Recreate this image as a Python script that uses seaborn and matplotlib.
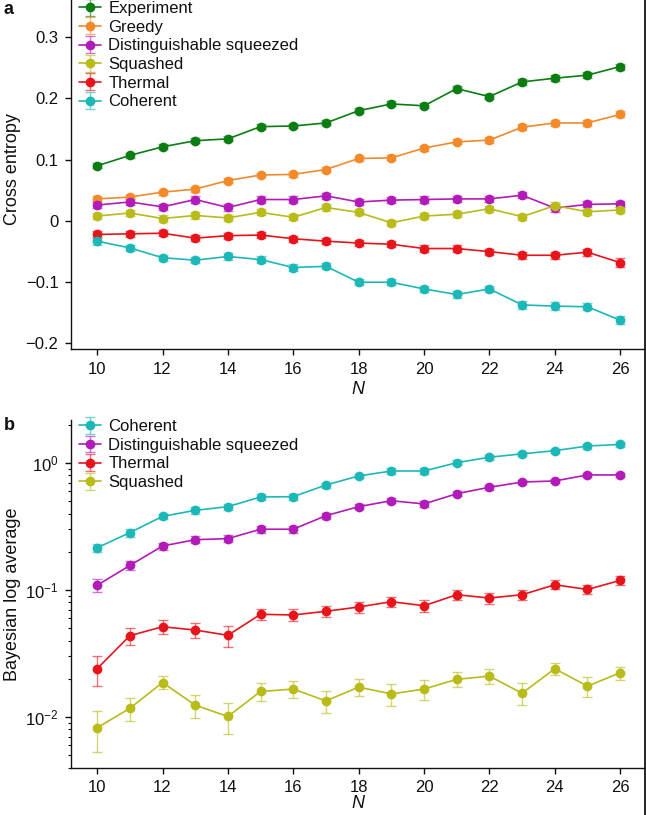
import numpy as np
import matplotlib
matplotlib.use("Agg")
import matplotlib.pyplot as plt
import seaborn as sns
from matplotlib.lines import Line2D

sns.set_style("ticks")
plt.rcParams['font.family'] = ['Liberation Sans', 'DejaVu Sans']
plt.rcParams['mathtext.fontset'] = 'custom'
plt.rcParams['mathtext.rm'] = 'Liberation Sans'
plt.rcParams['mathtext.it'] = 'Liberation Sans:italic'
for k in ['text.color', 'axes.labelcolor', 'xtick.color', 'ytick.color', 'axes.edgecolor']:
    plt.rcParams[k] = '#111111'

# ============================================
# DATOS
# ============================================
N = [10, 11, 12, 13, 14, 15, 16, 17, 18, 19, 20, 21, 22, 23, 24, 25, 26]

# panel a: cross entropy
ce_experiment = [0.090, 0.107, 0.121, 0.131, 0.134, 0.154, 0.155, 0.160, 0.180,
                 0.191, 0.188, 0.216, 0.203, 0.227, 0.233, 0.238, 0.252]
ce_greedy = [0.036, 0.039, 0.047, 0.052, 0.066, 0.075, 0.076, 0.084, 0.102,
             0.103, 0.119, 0.129, 0.132, 0.153, 0.160, 0.160, 0.174]
ce_squeezed = [0.026, 0.031, 0.023, 0.035, 0.022, 0.035, 0.035, 0.041, 0.031,
               0.034, 0.035, 0.036, 0.036, 0.042, 0.021, 0.027, 0.028]
ce_squashed = [0.008, 0.013, 0.004, 0.009, 0.005, 0.014, 0.006, 0.022, 0.014,
               -0.003, 0.008, 0.011, 0.020, 0.007, 0.025, 0.015, 0.018]
ce_thermal = [-0.022, -0.021, -0.020, -0.028, -0.024, -0.023, -0.029, -0.033, -0.036,
              -0.038, -0.045, -0.045, -0.050, -0.056, -0.056, -0.051, -0.068]
ce_coherent = [-0.033, -0.044, -0.060, -0.064, -0.058, -0.063, -0.076, -0.074, -0.100,
               -0.100, -0.111, -0.120, -0.111, -0.137, -0.139, -0.140, -0.162]

ce_experiment_err = [0.004, 0.004, 0.004, 0.004, 0.004, 0.004, 0.004, 0.004, 0.004,
                     0.004, 0.004, 0.004, 0.004, 0.005, 0.005, 0.005, 0.005]
ce_greedy_err = [0.004, 0.004, 0.004, 0.004, 0.004, 0.004, 0.004, 0.004, 0.004,
                 0.004, 0.004, 0.004, 0.005, 0.005, 0.005, 0.005, 0.005]
ce_squeezed_err = [0.005, 0.005, 0.005, 0.005, 0.005, 0.005, 0.005, 0.005, 0.005,
                   0.005, 0.005, 0.005, 0.005, 0.005, 0.006, 0.005, 0.005]
ce_squashed_err = [0.005, 0.005, 0.005, 0.005, 0.005, 0.005, 0.005, 0.005, 0.005,
                   0.005, 0.005, 0.005, 0.005, 0.005, 0.006, 0.005, 0.005]
ce_thermal_err = [0.006, 0.005, 0.005, 0.005, 0.005, 0.005, 0.005, 0.005, 0.005,
                  0.005, 0.005, 0.005, 0.005, 0.006, 0.006, 0.006, 0.007]
ce_coherent_err = [0.007, 0.005, 0.005, 0.005, 0.005, 0.005, 0.005, 0.005, 0.005,
                   0.005, 0.005, 0.005, 0.005, 0.006, 0.006, 0.006, 0.007]

# panel b: bayesian log average
bl_coherent = [0.215, 0.283, 0.380, 0.424, 0.453, 0.540, 0.543, 0.671, 0.790,
               0.865, 0.865, 1.005, 1.11, 1.18, 1.25, 1.36, 1.40]
bl_squeezed = [0.109, 0.156, 0.222, 0.249, 0.254, 0.301, 0.301, 0.385, 0.453,
               0.505, 0.476, 0.573, 0.644, 0.708, 0.722, 0.805, 0.805]
bl_thermal = [0.0240, 0.0437, 0.0514, 0.0484, 0.0440, 0.0644, 0.0636, 0.0680, 0.0735,
              0.0809, 0.0752, 0.0918, 0.0865, 0.0918, 0.110, 0.101, 0.119]
bl_squashed = [0.00824, 0.0117, 0.0187, 0.0124, 0.0101, 0.0159, 0.0166, 0.0134, 0.0172,
               0.0152, 0.0166, 0.0198, 0.0210, 0.0154, 0.0240, 0.0175, 0.0223]

bl_coherent_err = [0.015, 0.02, 0.02, 0.025, 0.025, 0.03, 0.03, 0.03, 0.035,
                   0.04, 0.04, 0.045, 0.05, 0.05, 0.05, 0.06, 0.06]
bl_squeezed_err = [0.012, 0.013, 0.014, 0.015, 0.016, 0.018, 0.018, 0.02, 0.022,
                   0.024, 0.026, 0.028, 0.03, 0.03, 0.032, 0.035, 0.035]
bl_thermal_err = [0.0065, 0.0065, 0.0065, 0.0068, 0.0085, 0.0065, 0.0068, 0.0068, 0.0075,
                  0.0078, 0.0085, 0.0085, 0.009, 0.0085, 0.009, 0.0085, 0.0095]
bl_squashed_err = [0.0029, 0.0024, 0.0022, 0.0026, 0.0028, 0.0025, 0.0025, 0.0027, 0.0026,
                   0.003, 0.0029, 0.0027, 0.0027, 0.003, 0.0025, 0.003, 0.0026]

# colores
colors = {
    'Experiment': '#0b7d12',
    'Greedy': '#f28a2a',
    'Distinguishable squeezed': '#b21bb8',
    'Squashed': '#b8bb18',
    'Thermal': '#e8141b',
    'Coherent': '#1cb8b8',
}

# ============================================
# FIGURA
# ============================================
fig = plt.figure(figsize=(6.46, 8.15), dpi=100)
ax1 = fig.add_axes([71/646, 1 - 349/815, (644 - 71)/646, (349 + 10)/815])
ax2 = fig.add_axes([71/646, 1 - 768/815, (644 - 71)/646, (768 - 420)/815])

FS = 12
LEG = dict(frameon=False, fontsize=FS, handlelength=1.3, handletextpad=0.45,
           labelspacing=0.22, borderpad=0, borderaxespad=0, loc='upper left')


def draw(ax, x, y, err, name):
    c = colors[name]
    ax.errorbar(x, y, yerr=err, fmt='-o', color=c, ecolor=(*matplotlib.colors.to_rgb(c), 0.6),
                markersize=6, linewidth=1.2, elinewidth=1.0, capsize=3.5, capthick=1.0,
                label=name)


# panel a
series_a = [
    (ce_experiment, ce_experiment_err, 'Experiment'),
    (ce_greedy, ce_greedy_err, 'Greedy'),
    (ce_squeezed, ce_squeezed_err, 'Distinguishable squeezed'),
    (ce_squashed, ce_squashed_err, 'Squashed'),
    (ce_thermal, ce_thermal_err, 'Thermal'),
    (ce_coherent, ce_coherent_err, 'Coherent'),
]
for y, e, name in series_a:
    draw(ax1, N, y, e, name)

ax1.set_xlim(9.2, 26.73)
ax1.set_ylim(-0.209, 0.377)
ax1.set_yticks([-0.2, -0.1, 0, 0.1, 0.2, 0.3])
ax1.set_yticklabels(['\u22120.2', '\u22120.1', '0', '0.1', '0.2', '0.3'])
ax1.set_xticks([10, 12, 14, 16, 18, 20, 22, 24, 26])
ax1.set_ylabel('Cross entropy', fontsize=FS + 1, labelpad=3)
ax1.set_xlabel('N', fontsize=FS + 1, style='italic', labelpad=3)
ax1.legend(bbox_to_anchor=(79/646, 1 - 1/815), bbox_transform=fig.transFigure, **LEG)

# panel b
series_b = [
    (bl_coherent, bl_coherent_err, 'Coherent'),
    (bl_squeezed, bl_squeezed_err, 'Distinguishable squeezed'),
    (bl_thermal, bl_thermal_err, 'Thermal'),
    (bl_squashed, bl_squashed_err, 'Squashed'),
]
for y, e, name in series_b:
    draw(ax2, N, y, e, name)

ax2.set_yscale('log')
ax2.set_xlim(9.2, 26.73)
ax2.set_ylim(0.00397, 2.18)
ax2.set_xticks([10, 12, 14, 16, 18, 20, 22, 24, 26])
ax2.set_ylabel('Bayesian log average', fontsize=FS + 1, labelpad=3)
ax2.set_xlabel('N', fontsize=FS + 1, style='italic', labelpad=0)
ax2.legend(bbox_to_anchor=(79/646, 1 - 419/815), bbox_transform=fig.transFigure, **LEG)

for ax in (ax1, ax2):
    sns.despine(ax=ax, top=True, right=True)
    ax.spines['left'].set_linewidth(1.0)
    ax.spines['bottom'].set_linewidth(1.0)
    ax.tick_params(axis='both', which='major', labelsize=FS, length=4, width=1.0,
                   direction='out', pad=5)
    ax.tick_params(axis='y', which='minor', length=2.5, width=0.8)

# linea del borde derecho
fig.add_artist(Line2D([644.5/646, 644.5/646], [0, 1], transform=fig.transFigure,
                      color='black', linewidth=1.2))

# etiquetas de panel
fig.text(4/646, 1 - 10/815, 'a', fontsize=FS + 1, fontweight='bold', va='center', ha='left')
fig.text(4/646, 1 - 425/815, 'b', fontsize=FS + 1, fontweight='bold', va='center', ha='left')

fig.savefig('out.png', dpi=100)
